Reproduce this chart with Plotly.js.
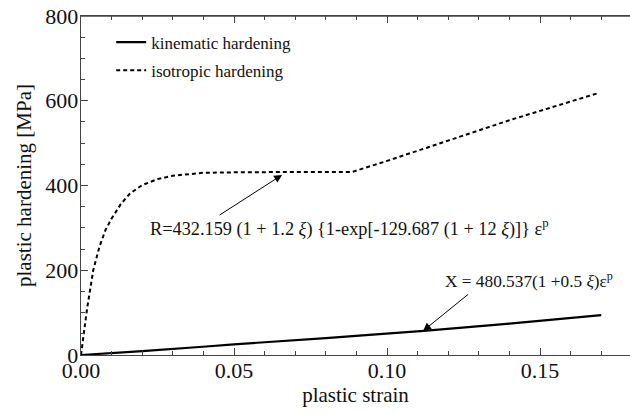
<!DOCTYPE html>
<html><head><meta charset="utf-8">
<script src="https://cdn.plot.ly/plotly-3.0.1.min.js"></script>
<style>html,body{margin:0;padding:0;background:#fff}#c{width:630px;height:414px}</style>
</head><body><div id="c"></div>
<script>
const isoStrain = [0, 0.002, 0.004, 0.006, 0.008, 0.010, 0.013, 0.016, 0.020, 0.025, 0.030, 0.035, 0.040, 0.050, 0.060, 0.070, 0.0886, 0.100, 0.120, 0.140, 0.169];
const isoStress = [0, 110, 200, 255, 295, 322, 356, 381, 401, 415, 423, 427, 430, 431, 432, 432, 432, 458, 506, 554, 618];
const kinStrain = [0, 0.02, 0.05, 0.08, 0.112, 0.14, 0.17];
const kinStress = [0, 9, 25, 40, 57, 74, 94];
const seriesNames = ["kinematic hardening", "isotropic hardening"];
const xTitle = "plastic strain";
const yTitle = "plastic hardening [MPa]";
const noteR = "R=432.159 (1 + 1.2 <i>ξ</i>) {1-exp[-129.687 (1 + 12 <i>ξ</i>)]} ε<sup>p</sup>";
const noteX = "X = 480.537(1 +0.5 <i>ξ</i>)ε<sup>p</sup>";

const FAM = "Liberation Serif";
const data = [
  {x: kinStrain, y: kinStress, name: seriesNames[0], legendgroup: "k", mode: "lines", line: {color: "#000", width: 2.2, shape: "spline"}},
  {x: isoStrain, y: isoStress, name: seriesNames[1], legendgroup: "i", mode: "lines", line: {color: "#000", width: 2, dash: "4px,3px"}}
];
const layout = {
  width: 630, height: 414,
  margin: {l: 81, r: 0, t: 16, b: 59},
  paper_bgcolor: "#fff", plot_bgcolor: "#fff",
  font: {family: FAM, size: 20, color: "#111"},
  showlegend: true,
  legend: {x: 0.055, y: 0.975, xanchor: "left", yanchor: "top", traceorder: "grouped", tracegroupgap: 3,
           font: {family: FAM, size: 17, color: "#111"}, itemwidth: 30, bgcolor: "rgba(0,0,0,0)"},
  xaxis: {
    range: [0, 0.1794], dtick: 0.05, tickformat: ".2f",
    showgrid: false, zeroline: false, showline: true, linecolor: "#444", linewidth: 1.3,
    ticks: "inside", ticklen: 7, tickcolor: "#444", mirror: "ticks", ticklabelstandoff: -5,
    minor: {dtick: 0.01, ticks: "inside", ticklen: 4, tickcolor: "#444"},
    tickfont: {family: FAM, size: 22, color: "#111"},
    title: {text: xTitle, font: {family: FAM, size: 21, color: "#111"}, standoff: 4}
  },
  yaxis: {
    range: [0, 800], dtick: 200,
    showgrid: false, zeroline: false, showline: true, linecolor: "#444", linewidth: 1.3,
    ticks: "inside", ticklen: 7, tickcolor: "#444", ticklabelstandoff: -3,
    minor: {dtick: 50, ticks: "inside", ticklen: 4, tickcolor: "#444"},
    tickfont: {family: FAM, size: 22, color: "#111"},
    title: {text: yTitle, font: {family: FAM, size: 21, color: "#111"}, standoff: 8}
  },
  shapes: [{type: "line", xref: "paper", yref: "paper", x0: 0, x1: 1, y0: 1, y1: 1, line: {color: "#444", width: 1.3}}],
  annotations: [
    {x: 0.0657, y: 425, ax: 0.0448, ay: 328, xref: "x", yref: "y", axref: "x", ayref: "y", text: "", showarrow: true, arrowhead: 2, arrowsize: 1.6, arrowwidth: 1, arrowcolor: "#000"},
    {x: 0.1118, y: 57, ax: 0.127, ay: 146, xref: "x", yref: "y", axref: "x", ayref: "y", text: "", showarrow: true, arrowhead: 2, arrowsize: 1.6, arrowwidth: 1, arrowcolor: "#000"},
    {x: 0.0879, y: 300, xref: "x", yref: "y", text: noteR, showarrow: false, font: {family: FAM, size: 18.3, color: "#111"}},
    {x: 0.1465, y: 177, xref: "x", yref: "y", text: noteX, showarrow: false, font: {family: FAM, size: 17.3, color: "#111"}}
  ]
};
Plotly.newPlot("c", data, layout, {displayModeBar: false, staticPlot: true});
</script></body></html>
